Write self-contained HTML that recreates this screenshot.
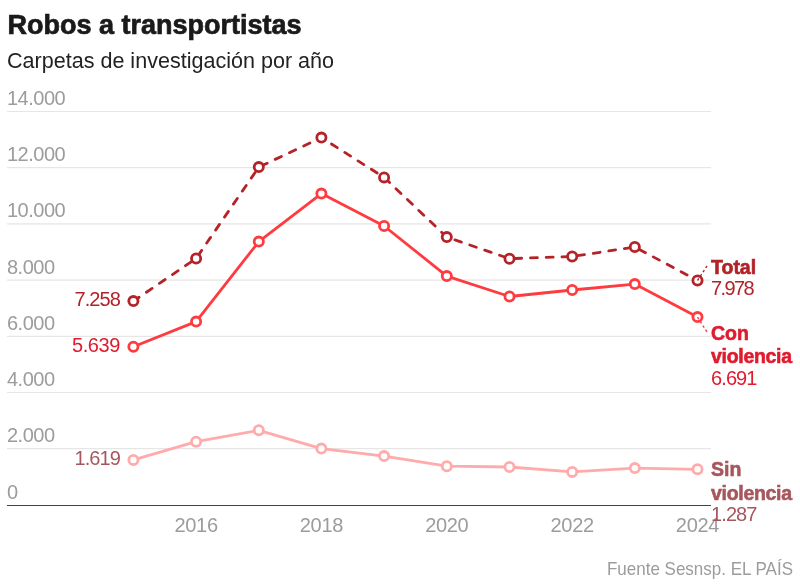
<!DOCTYPE html>
<html><head><meta charset="utf-8"><style>
html,body{margin:0;padding:0;background:#fff;width:800px;height:588px;overflow:hidden}
svg{display:block;will-change:transform}
text{font-family:"Liberation Sans",sans-serif}
</style></head><body>
<svg width="800" height="588" viewBox="0 0 800 588">
<text x="7.5" y="33.7" font-size="27" font-weight="bold" fill="#1a1a1a" stroke="#1a1a1a" stroke-width="0.7" textLength="294" lengthAdjust="spacingAndGlyphs">Robos a transportistas</text>
<text x="7" y="68.2" font-size="21.5" fill="#222" textLength="327" lengthAdjust="spacingAndGlyphs">Carpetas de investigación por año</text>
<line x1="7" x2="711" y1="448.7" y2="448.7" stroke="#e6e6e6" stroke-width="1.2"/>
<line x1="7" x2="711" y1="392.5" y2="392.5" stroke="#e6e6e6" stroke-width="1.2"/>
<line x1="7" x2="711" y1="336.3" y2="336.3" stroke="#e6e6e6" stroke-width="1.2"/>
<line x1="7" x2="711" y1="280.1" y2="280.1" stroke="#e6e6e6" stroke-width="1.2"/>
<line x1="7" x2="711" y1="223.9" y2="223.9" stroke="#e6e6e6" stroke-width="1.2"/>
<line x1="7" x2="711" y1="167.7" y2="167.7" stroke="#e6e6e6" stroke-width="1.2"/>
<line x1="7" x2="711" y1="111.5" y2="111.5" stroke="#e6e6e6" stroke-width="1.2"/>
<text x="7" y="442.2" font-size="20" fill="#9c9c9c" letter-spacing="-0.5">2.000</text>
<text x="7" y="386.0" font-size="20" fill="#9c9c9c" letter-spacing="-0.5">4.000</text>
<text x="7" y="329.8" font-size="20" fill="#9c9c9c" letter-spacing="-0.5">6.000</text>
<text x="7" y="273.6" font-size="20" fill="#9c9c9c" letter-spacing="-0.5">8.000</text>
<text x="7" y="217.4" font-size="20" fill="#9c9c9c" letter-spacing="-0.5">10.000</text>
<text x="7" y="161.2" font-size="20" fill="#9c9c9c" letter-spacing="-0.5">12.000</text>
<text x="7" y="105.0" font-size="20" fill="#9c9c9c" letter-spacing="-0.5">14.000</text>
<text x="7" y="498.8" font-size="20" fill="#9c9c9c">0</text>
<line x1="7" x2="711" y1="505.5" y2="505.5" stroke="#444" stroke-width="1.2"/>
<text x="196.1" y="531.8" font-size="20" fill="#9c9c9c" text-anchor="middle" letter-spacing="-0.3">2016</text>
<text x="321.4" y="531.8" font-size="20" fill="#9c9c9c" text-anchor="middle" letter-spacing="-0.3">2018</text>
<text x="446.8" y="531.8" font-size="20" fill="#9c9c9c" text-anchor="middle" letter-spacing="-0.3">2020</text>
<text x="572.2" y="531.8" font-size="20" fill="#9c9c9c" text-anchor="middle" letter-spacing="-0.3">2022</text>
<text x="697.5" y="531.8" font-size="20" fill="#9c9c9c" text-anchor="middle" letter-spacing="-0.3">2024</text>
<polyline points="133.4,459.9 196.1,441.7 258.8,430.3 321.4,448.6 384.1,456.1 446.8,466.2 509.5,467.0 572.2,471.9 634.8,468.1 697.5,469.3" fill="none" stroke="#ffabab" stroke-width="2.8" stroke-linejoin="round"/>
<circle cx="133.4" cy="459.9" r="4.6" fill="#fff" stroke="#ffabab" stroke-width="2.8"/><circle cx="196.1" cy="441.7" r="4.6" fill="#fff" stroke="#ffabab" stroke-width="2.8"/><circle cx="258.8" cy="430.3" r="4.6" fill="#fff" stroke="#ffabab" stroke-width="2.8"/><circle cx="321.4" cy="448.6" r="4.6" fill="#fff" stroke="#ffabab" stroke-width="2.8"/><circle cx="384.1" cy="456.1" r="4.6" fill="#fff" stroke="#ffabab" stroke-width="2.8"/><circle cx="446.8" cy="466.2" r="4.6" fill="#fff" stroke="#ffabab" stroke-width="2.8"/><circle cx="509.5" cy="467.0" r="4.6" fill="#fff" stroke="#ffabab" stroke-width="2.8"/><circle cx="572.2" cy="471.9" r="4.6" fill="#fff" stroke="#ffabab" stroke-width="2.8"/><circle cx="634.8" cy="468.1" r="4.6" fill="#fff" stroke="#ffabab" stroke-width="2.8"/><circle cx="697.5" cy="469.3" r="4.6" fill="#fff" stroke="#ffabab" stroke-width="2.8"/>
<polyline points="133.4,346.8 196.1,321.6 258.8,241.6 321.4,193.6 384.1,226.0 446.8,276.1 509.5,296.5 572.2,290.0 634.8,284.1 697.5,317.1" fill="none" stroke="#ff3b3f" stroke-width="2.8" stroke-linejoin="round"/>
<circle cx="133.4" cy="346.8" r="4.6" fill="#fff" stroke="#ff3b3f" stroke-width="2.8"/><circle cx="196.1" cy="321.6" r="4.6" fill="#fff" stroke="#ff3b3f" stroke-width="2.8"/><circle cx="258.8" cy="241.6" r="4.6" fill="#fff" stroke="#ff3b3f" stroke-width="2.8"/><circle cx="321.4" cy="193.6" r="4.6" fill="#fff" stroke="#ff3b3f" stroke-width="2.8"/><circle cx="384.1" cy="226.0" r="4.6" fill="#fff" stroke="#ff3b3f" stroke-width="2.8"/><circle cx="446.8" cy="276.1" r="4.6" fill="#fff" stroke="#ff3b3f" stroke-width="2.8"/><circle cx="509.5" cy="296.5" r="4.6" fill="#fff" stroke="#ff3b3f" stroke-width="2.8"/><circle cx="572.2" cy="290.0" r="4.6" fill="#fff" stroke="#ff3b3f" stroke-width="2.8"/><circle cx="634.8" cy="284.1" r="4.6" fill="#fff" stroke="#ff3b3f" stroke-width="2.8"/><circle cx="697.5" cy="317.1" r="4.6" fill="#fff" stroke="#ff3b3f" stroke-width="2.8"/>
<polyline points="133.4,301.1 196.1,258.5 258.8,167.1 321.4,137.6 384.1,177.4 446.8,237.1 509.5,258.7 572.2,256.5 634.8,247.0 697.5,280.5" fill="none" stroke="#b42328" stroke-width="2.8" stroke-dasharray="6.9 8.85" stroke-linecap="round" stroke-linejoin="round"/>
<circle cx="133.4" cy="301.1" r="4.6" fill="#fff" stroke="#b42328" stroke-width="2.8"/><circle cx="196.1" cy="258.5" r="4.6" fill="#fff" stroke="#b42328" stroke-width="2.8"/><circle cx="258.8" cy="167.1" r="4.6" fill="#fff" stroke="#b42328" stroke-width="2.8"/><circle cx="321.4" cy="137.6" r="4.6" fill="#fff" stroke="#b42328" stroke-width="2.8"/><circle cx="384.1" cy="177.4" r="4.6" fill="#fff" stroke="#b42328" stroke-width="2.8"/><circle cx="446.8" cy="237.1" r="4.6" fill="#fff" stroke="#b42328" stroke-width="2.8"/><circle cx="509.5" cy="258.7" r="4.6" fill="#fff" stroke="#b42328" stroke-width="2.8"/><circle cx="572.2" cy="256.5" r="4.6" fill="#fff" stroke="#b42328" stroke-width="2.8"/><circle cx="634.8" cy="247.0" r="4.6" fill="#fff" stroke="#b42328" stroke-width="2.8"/><circle cx="697.5" cy="280.5" r="4.6" fill="#fff" stroke="#b42328" stroke-width="2.8"/>
<line x1="697.5" y1="280.5" x2="707" y2="266" stroke="#b42328" stroke-width="1.4" stroke-dasharray="2.5 2.5"/>
<line x1="697.5" y1="317.1" x2="707" y2="332" stroke="#ff3b3f" stroke-width="1.4" stroke-dasharray="2.5 2.5"/>
<text x="120" y="306" font-size="20" fill="#b12328" text-anchor="end" letter-spacing="-0.9">7.258</text>
<text x="120" y="352.2" font-size="20" fill="#e01b2e" text-anchor="end" letter-spacing="-0.4">5.639</text>
<text x="120" y="465" font-size="20" fill="#a6575d" text-anchor="end" letter-spacing="-0.9">1.619</text>
<text x="711" y="274" font-size="19.5" font-weight="bold" fill="#b12328" stroke="#b12328" stroke-width="0.6">Total</text>
<text x="711" y="295" font-size="20" fill="#b12328" letter-spacing="-1.6">7.978</text>
<text x="711" y="339.7" font-size="19.5" font-weight="bold" fill="#e01b2e" stroke="#e01b2e" stroke-width="0.6">Con</text>
<text x="711" y="363" font-size="19.5" font-weight="bold" fill="#e01b2e" stroke="#e01b2e" stroke-width="0.6" letter-spacing="-0.3">violencia</text>
<text x="711" y="384.6" font-size="20" fill="#e01b2e" letter-spacing="-0.9">6.691</text>
<text x="711" y="476.1" font-size="19.5" font-weight="bold" fill="#a6575d" stroke="#a6575d" stroke-width="0.6">Sin</text>
<text x="711" y="499.7" font-size="19.5" font-weight="bold" fill="#a6575d" stroke="#a6575d" stroke-width="0.6" letter-spacing="-0.3">violencia</text>
<text x="711" y="520.7" font-size="20" fill="#a6575d" letter-spacing="-0.9">1.287</text>
<text x="793" y="575" font-size="19" fill="#9c9c9c" text-anchor="end" textLength="186" lengthAdjust="spacingAndGlyphs">Fuente Sesnsp. EL PAÍS</text>
</svg>
</body></html>
